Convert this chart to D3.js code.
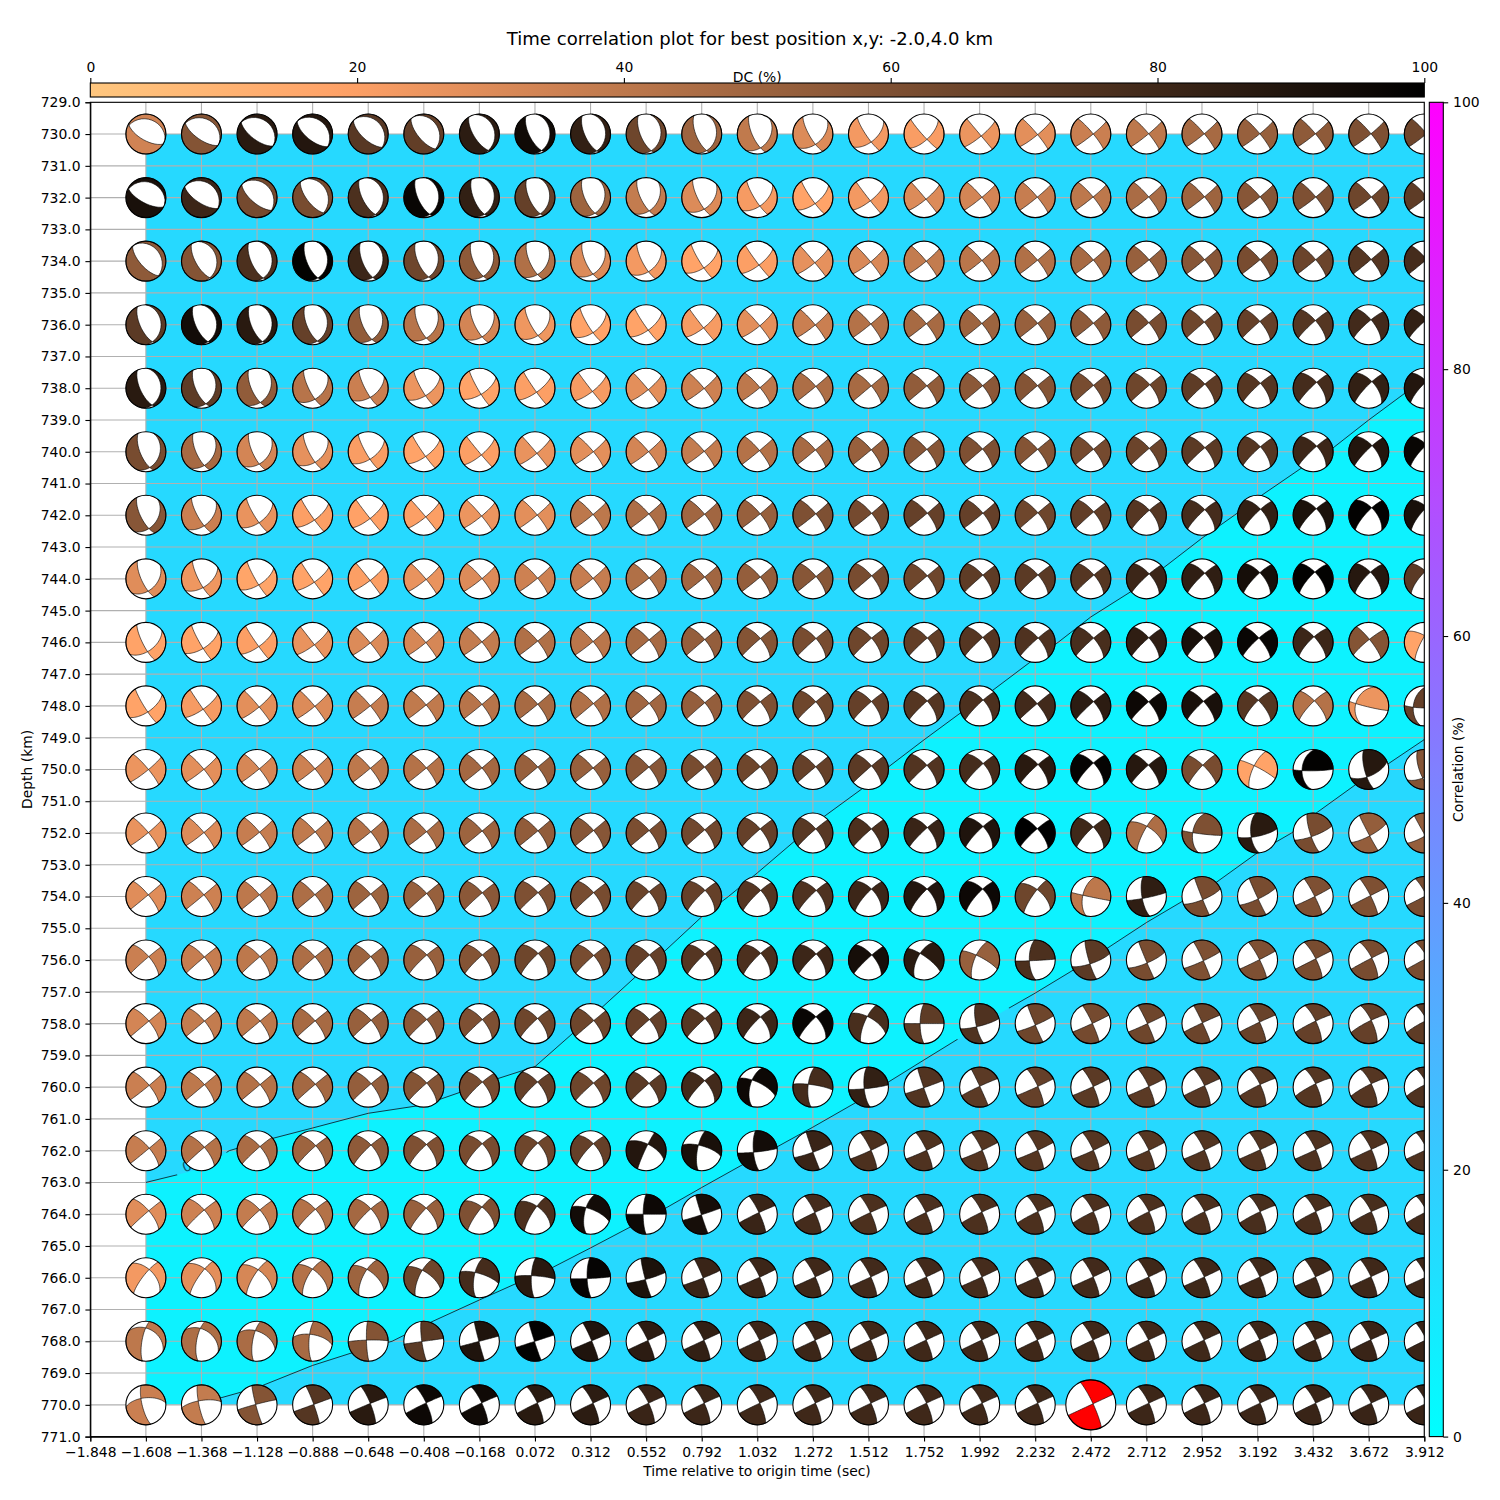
<!DOCTYPE html>
<html><head><meta charset="utf-8">
<script src="https://cdn.jsdelivr.net/npm/d3@7"></script>
<style>
html,body{margin:0;padding:0;background:#fff}
svg{display:block}
text{font-family:"DejaVu Sans",sans-serif;fill:#000}
</style></head><body><div id="chart"></div>
<script>
const titleText = "Time correlation plot for best position x,y: -2.0,4.0 km";
const timeTicks = [-1.848,-1.608,-1.368,-1.128,-0.888,-0.648,-0.408,-0.168,0.072,0.312,0.552,0.792,1.032,1.272,1.512,1.752,1.992,2.232,2.472,2.712,2.952,3.192,3.432,3.672,3.912];
const depthTicks = [729,730,731,732,733,734,735,736,737,738,739,740,741,742,743,744,745,746,747,748,749,750,751,752,753,754,755,756,757,758,759,760,761,762,763,764,765,766,767,768,769,770,771];
const times = [-1.608,-1.368,-1.128,-0.888,-0.648,-0.408,-0.168,0.072,0.312,0.552,0.792,1.032,1.272,1.512,1.752,1.992,2.232,2.472,2.712,2.952,3.192,3.432,3.672,3.912];
const depths = [730,732,734,736,738,740,742,744,746,748,750,752,754,756,758,760,762,764,766,768,770];
const bestTime = 2.472, bestDepth = 770;
const dcTicks = [0,20,40,60,80,100];
const corrTicks = [0,20,40,60,80,100];
const corrLevel = 10;
const contourLabels = [{time:-1.37,depth:762.34,angle:-21,half:27},{time:2.007,depth:758.0,angle:-30,half:30}];

const dc = [
[34,58,87,89,72,69,86,95,84,65,50,39,30,23,21,25,28,36,40,47,52,55,60,65],
[92,81,63,62,76,97,84,68,50,38,30,22,18,23,30,33,37,40,46,50,57,60,65,70],
[55,58,76,99,81,65,55,44,30,23,18,20,27,31,38,41,44,47,52,57,62,66,73,78],
[71,94,87,68,54,42,33,24,18,18,22,28,36,43,47,50,52,55,62,65,68,73,79,84],
[87,70,54,42,36,25,18,20,22,28,35,40,45,47,54,56,58,62,65,70,73,78,84,89],
[62,47,33,27,21,18,20,26,28,33,38,43,47,52,57,60,58,63,66,71,73,81,89,97],
[57,36,26,20,19,20,25,28,40,45,49,52,60,63,68,68,65,69,73,78,84,91,99,92],
[29,24,17,18,20,26,30,35,37,44,49,53,57,62,65,70,71,73,81,85,93,99,88,71],
[18,18,20,26,30,32,38,44,41,47,53,58,62,65,69,73,75,77,85,92,97,81,58,18],
[18,22,28,30,37,39,42,47,44,49,53,60,65,68,73,76,79,86,96,92,73,43,25,68],
[25,28,32,35,40,43,48,52,52,57,62,65,68,71,74,78,87,98,88,62,18,99,88,58],
[26,30,37,39,43,46,50,54,57,61,64,68,72,76,82,90,100,80,45,60,87,62,53,53],
[29,35,40,45,50,52,56,60,62,66,68,73,75,81,89,96,65,40,85,62,62,60,60,62],
[36,37,40,45,50,52,58,65,62,68,73,76,81,93,87,52,76,71,62,60,60,62,62,62],
[33,38,40,47,52,56,60,65,65,68,73,81,97,77,70,75,65,63,65,66,67,68,68,70],
[36,40,43,48,53,58,62,68,65,71,79,96,78,84,74,71,68,71,71,72,72,73,73,75],
[37,43,46,50,55,60,62,65,68,89,92,94,82,76,75,73,73,73,73,74,74,75,75,75],
[29,35,38,43,48,52,60,76,94,96,93,82,78,76,76,76,76,76,76,76,77,77,77,78],
[23,28,32,43,50,65,78,87,98,91,82,81,80,79,79,78,79,79,80,80,80,80,80,80],
[40,45,46,47,58,71,90,99,90,86,84,81,81,80,80,80,80,80,80,80,81,81,82,82],
[36,38,58,73,87,96,95,87,86,82,81,80,80,80,80,80,80,80,81,81,81,82,82,82]];

const strikes = [
[300,305,307,309,312,320,328,333,335,337,337,335,330,326,318,320,320,320,320,320,320,320,320,320],
[298,303,310,322,333,335,337,335,335,333,333,328,325,322,320,320,320,320,320,320,320,320,320,320],
[318,330,335,337,337,335,335,335,335,332,328,323,320,320,320,320,320,320,320,320,320,320,320,320],
[335,335,337,337,335,335,333,330,328,325,322,320,320,320,320,320,320,320,320,320,320,320,322,322],
[335,335,335,333,332,330,330,325,322,320,320,320,320,320,320,320,320,320,320,320,320,320,320,320],
[337,335,335,332,330,325,320,320,320,320,320,320,320,320,320,320,320,320,320,320,320,320,320,320],
[333,330,328,325,322,320,320,320,320,320,320,320,320,320,320,320,320,320,320,320,320,320,320,320],
[335,333,330,325,322,320,320,320,320,320,320,320,320,320,320,320,320,320,320,320,320,320,320,320],
[333,330,325,322,320,320,320,320,320,320,320,320,320,320,320,320,320,320,320,320,320,320,322,208],
[328,325,320,320,320,320,320,320,320,320,320,320,320,320,320,320,320,320,320,320,318,318,200,190],
[320,320,320,320,320,320,320,320,320,320,320,320,320,320,320,320,320,320,320,315,205,185,165,160],
[320,320,320,320,320,320,320,320,320,320,320,320,320,320,320,320,320,320,208,190,175,162,152,150],
[320,320,320,320,320,320,320,320,320,320,320,320,320,320,320,320,215,193,170,158,155,333,333,333],
[320,320,320,320,320,320,320,320,320,320,320,320,320,320,208,203,178,163,157,335,333,333,333,333],
[320,320,320,320,320,320,320,320,320,320,320,320,320,203,180,168,157,335,335,335,335,335,335,335],
[320,320,320,320,320,320,320,320,320,320,320,195,185,175,161,335,335,335,335,335,335,335,335,335],
[320,320,320,320,320,320,320,320,320,205,190,175,160,335,335,335,335,335,335,335,335,335,335,335],
[320,320,320,320,320,222,216,212,192,180,162,335,335,335,335,335,335,335,335,335,335,335,335,335],
[218,215,212,210,207,205,190,182,178,165,338,335,335,335,335,335,335,335,335,335,335,335,335,335],
[190,190,190,183,178,172,165,162,337,335,335,335,335,335,335,335,335,335,335,335,335,335,335,335],
[166,168,165,340,338,335,335,335,335,335,335,335,335,335,335,335,335,335,335,335,335,335,335,335]];

const dips = [
[115,112,113,115,114,113,113,113,113,113,113,110,105,100,96,90,84,82,82,82,82,82,82,82],
[112,112,113,113,113,113,113,113,113,111,106,101,97,92,88,82,82,81,81,80,80,80,80,80],
[113,113,113,113,113,113,113,111,110,105,98,94,88,85,83,81,80,79,78,78,78,78,78,78],
[113,113,113,113,112,111,108,105,100,96,92,85,83,81,80,80,79,78,77,76,74,72,70,70],
[113,113,112,105,102,100,97,94,92,87,83,80,76,75,75,74,76,74,70,70,68,63,62,64],
[113,111,108,104,100,95,92,88,81,82,81,80,77,76,75,74,76,75,72,70,68,64,63,64],
[111,105,100,95,92,88,85,82,80,78,78,77,77,75,74,74,75,72,67,66,64,62,60,60],
[108,102,97,92,88,84,81,80,81,78,76,76,74,72,72,70,71,70,68,66,66,66,66,65],
[103,97,94,90,85,84,81,78,80,74,73,70,70,69,68,67,69,70,70,72,74,72,80,78],
[97,92,86,84,83,80,78,77,75,74,72,70,70,69,67,63,78,70,72,73,72,72,35,45],
[82,82,81,81,80,78,78,75,78,75,75,74,74,71,70,63,68,64,72,75,71,44,73,70],
[81,81,80,79,79,78,76,75,74,74,72,70,70,70,65,62,72,66,78,52,62,78,88,88],
[78,78,78,78,76,73,71,70,70,68,63,63,63,60,60,60,79,57,72,88,88,84,82,80],
[72,73,72,74,73,67,67,62,68,66,63,61,63,66,62,69,66,82,88,86,82,78,75,75],
[74,74,74,75,72,70,70,68,72,69,66,62,62,73,74,75,88,84,86,87,80,76,75,75],
[75,74,74,74,72,70,67,68,70,71,63,60,70,72,88,88,79,80,80,78,76,75,75,75],
[73,72,70,67,66,65,62,60,62,85,72,74,88,80,80,80,80,80,80,80,79,79,78,78],
[72,70,70,68,67,80,80,78,65,78,88,81,80,80,80,78,76,76,76,76,76,76,76,76],
[78,78,75,70,68,70,68,75,76,85,85,80,80,80,80,80,80,80,80,80,80,80,80,80],
[74,70,72,75,83,82,88,88,85,82,80,80,80,80,80,80,80,80,80,80,80,80,80,80],
[75,80,85,85,80,78,78,78,78,78,78,78,78,78,78,78,78,82,78,78,78,78,78,78]];

const rakes = [
[84,87,89,92,94,96,98,103,102,105,106,122,138,147,156,170,172,174,175,175,175,175,175,175],
[86,92,94,97,100,103,105,107,112,125,133,145,155,165,170,175,176,176,176,176,176,175,175,175],
[94,98,102,104,108,110,115,125,127,137,152,163,170,172,174,176,177,177,177,178,178,178,179,179],
[100,100,103,107,117,125,130,135,147,157,165,170,173,176,177,178,178,178,180,182,184,187,190,190],
[102,112,120,135,143,150,155,163,165,170,173,175,178,180,180,180,182,182,182,185,188,189,192,195],
[112,123,130,137,150,160,165,170,173,174,175,178,179,179,180,181,181,181,183,185,188,188,190,195],
[125,137,150,160,165,170,172,175,176,177,176,177,177,178,178,178,181,183,188,190,191,192,195,198],
[130,145,155,165,170,172,174,175,175,175,178,178,179,181,181,183,185,184,188,190,193,196,196,200],
[143,155,162,168,173,174,175,177,176,180,181,184,184,185,185,187,186,186,188,190,190,195,188,-25],
[155,165,171,173,175,177,178,178,180,180,182,185,185,186,187,189,182,186,187,190,195,192,8,12],
[173,174,176,176,178,178,178,180,178,180,180,181,181,183,185,189,188,193,188,190,-8,8,28,30],
[175,175,176,177,177,177,179,179,180,180,182,185,185,185,188,191,188,192,-25,5,15,12,12,12],
[179,179,179,180,181,182,184,184,184,187,190,190,190,195,195,195,-28,2,5,13,10,-3,0,0],
[183,182,183,184,184,188,188,192,186,187,190,192,190,187,-16,-13,2,14,12,-5,-2,0,2,2],
[180,180,180,182,183,185,185,189,181,184,187,192,193,-25,0,10,6,-2,-2,2,2,5,8,8],
[177,180,180,182,183,185,188,189,185,184,192,-22,-10,5,2,3,-2,-2,-2,1,5,8,8,8],
[179,183,185,187,190,192,194,196,194,-27,-20,5,6,-3,-3,-3,-3,-3,-3,-2,-1,-1,0,0],
[183,186,186,188,190,-25,-30,-32,-22,0,2,3,3,3,3,4,5,5,5,5,5,5,5,5],
[-35,-38,-30,-30,-28,-25,-18,-8,3,6,-3,-2,-1,-1,-1,-1,-1,-1,-1,-1,-1,-1,0,0],
[-55,-52,-42,-28,-5,0,0,0,0,0,0,0,0,1,1,1,1,1,1,1,2,2,2,2],
[-30,-18,-3,0,2,3,3,3,2,2,2,2,2,2,2,2,2,0,2,2,2,2,2,2]];

const correlation = [
[14,15,16,17,18,18,18,18,17,16,16,15,15,15,15,15,15,15,15,14,14,14,14,14],
[15,16,16,17,18,18,18,17,17,16,16,15,15,15,15,15,15,15,15,14,14,14,14,14],
[15,16,16,17,17,17,17,17,16,16,16,15,15,15,15,15,15,15,14,14,14,14,14,13],
[15,15,15,15,15,15,15,15,15,15,15,15,15,14,14,14,14,14,14,14,13,13,12.5,11.26],
[15,15,15,15,15,15,15,15,15,15,15,15,14,14,14,14,14,14,14,13,13,12,10.81,9.76],
[14,14,14,14,14,14,14,14,14,14,14,14,14,14,14,14,14,14,14,13,12.08,10.3,9.19,8],
[14,14,14,14,14,14,14,14,14,14,14,14,14,14,14,14,14,13,12,11.07,9.23,8,7,6.5],
[14,14,14,14,14,14,14,14,14,14,14,14,14,14,14,14,12.5,11.44,10.1,8.1,7,6,6,6],
[14,14,14,14,14,14,14,14,14,14,14,14,14,14,13,12.5,10.67,9.04,8,7,6,6,6.5,7],
[14,14,14,14,14,14,14,14,14,14,14,14,14,12.5,11.2,9.75,8,7,6,6,6.5,7,8,9.1],
[14,14,14,14,14,14,14,14,14,14,14,13,11.4,10.45,8.95,8,7,6,6,6.5,7.5,9.02,9.8,10.8],
[14,14,14,14,14,14,14,14,14,14,12.5,11.12,9.79,8.5,7.5,7,6,6,7,8,9.4,10.38,12,13],
[14,14,14,14,14,14,14,14,14,12,10.61,9.34,8,7,6.5,6,6,7,9.5,10.13,11.34,13,14,14],
[14,14,14,14,14,14,14,14,12.9,10.25,8.7,7.5,7,6,6,7,7.4,10.05,10.72,13,14,14,15,15],
[15,15,15,15,15,14,13,12.1,9.71,8,7,6,5.5,6,8,9.9,12.4,13,14,15,15,15,15,15],
[15,16,16.7,13.6,12.1,11.55,9.87,9,8,7,6,5.5,8.3,9.6,11.5,13,14,15,15,15,15,15,15,15],
[11.5,11,9,8,7,6,6,6,6,6,8.55,9.7,11,12.7,14,15,15,15,15,15,15,15,15,15],
[8.5,7.5,7,7,6.5,6,6,7,8,9.8,11.05,13,14,15,15,15,15,15,15,15,15,15,15,15],
[7,7,6.5,6.5,7,8.8,9.5,10.06,11.77,12.66,14,15,15,15,15,15,15,15,15,15,15,15,15,15],
[8,8,8,8.5,9.7,10.4,10.93,13,14,15,15,15,15,15,15,15,15,15,15,15,15,15,15,15],
[9,10.05,10.74,12.45,12.7,13.5,14,15,15,15,15,15,15,15,15,15,15,15,15,15,15,15,15,15]];

const W=1500,H=1500;
const ax={l:90.3,r:1424.3,t:102.3,b:1436.6};
const svg=d3.select("#chart").append("svg").attr("width",W).attr("height",H).attr("viewBox",`0 0 ${W} ${H}`);
const x=d3.scaleLinear().domain([timeTicks[0],timeTicks[timeTicks.length-1]]).range([ax.l,ax.r]);
const y=d3.scaleLinear().domain([depthTicks[0],depthTicks[depthTicks.length-1]]).range([ax.t,ax.b]);
const dcScale=d3.scaleLinear().domain([0,100]).range([ax.l,ax.r]);
const corrScale=d3.scaleLinear().domain([0,100]).range([ax.b,ax.t]);
const copperR=v=>{const t=1-v/100;return d3.rgb(255*Math.min(1,t/0.809524),255*0.7812*t,255*0.4975*t).formatHex();};
const cool=v=>{const t=v/100;return d3.rgb(255*t,255*(1-t),255).formatHex();};
const defs=svg.append("defs");
defs.append("clipPath").attr("id","axclip").append("rect").attr("x",ax.l).attr("y",ax.t).attr("width",ax.r-ax.l).attr("height",ax.b-ax.t);
defs.append("clipPath").attr("id","fieldclip").append("rect").attr("x",x(times[0])).attr("y",y(depths[0])).attr("width",x(times[23])-x(times[0])).attr("height",y(depths[20])-y(depths[0]));
function grad(id,x2,y2,fn){const g=defs.append("linearGradient").attr("id",id).attr("x1",0).attr("y1",0).attr("x2",x2).attr("y2",y2);
  d3.range(0,101,2).forEach(v=>g.append("stop").attr("offset",v+"%").attr("stop-color",fn(v)));}
grad("gdc",1,0,copperR); grad("gcorr",0,1,v=>cool(100-v));

// correlation field
const field=svg.append("g").attr("clip-path","url(#fieldclip)");
field.append("rect").attr("x",x(times[0])).attr("y",y(depths[0])).attr("width",x(times[23])-x(times[0])).attr("height",y(depths[20])-y(depths[0])).attr("fill",cool(5));
const nx=times.length,ny=depths.length;
const dt=times[1]-times[0],dz=depths[1]-depths[0];
const gridProj=d3.geoTransform({point(u,v){this.stream.point(x(times[0]+(u-0.5)*dt),y(depths[0]+(v-0.5)*dz));}});
const contour=d3.contours().size([nx,ny]).thresholds([corrLevel])(correlation.flat())[0];
const geo=d3.geoPath(gridProj);
field.append("path").attr("d",geo(contour)).attr("fill",cool(15));

// grid
const grid=svg.append("g").attr("clip-path","url(#axclip)");
grid.selectAll("line.v").data(timeTicks).join("line").attr("x1",d=>x(d)).attr("x2",d=>x(d)).attr("y1",ax.t).attr("y2",ax.b).attr("stroke","#b0b0b0").attr("stroke-width",1.1);
grid.selectAll("line.h").data(depthTicks).join("line").attr("y1",d=>y(d)).attr("y2",d=>y(d)).attr("x1",ax.l).attr("x2",ax.r).attr("stroke","#b0b0b0").attr("stroke-width",1.1);

// contour line with label gaps
const mask=defs.append("mask").attr("id","gaps").attr("maskUnits","userSpaceOnUse").attr("x",0).attr("y",0).attr("width",W).attr("height",H);
mask.append("rect").attr("width",W).attr("height",H).attr("fill","#fff");
mask.selectAll("rect.g").data(contourLabels).join("rect").attr("class","g").attr("x",d=>-d.half).attr("y",-12).attr("width",d=>2*d.half).attr("height",24).attr("fill","#000")
  .attr("transform",d=>`translate(${x(d.time)},${y(d.depth)}) rotate(${d.angle})`);
svg.append("g").attr("clip-path","url(#fieldclip)").append("g").attr("mask","url(#gaps)").append("path").attr("d",geo(contour)).attr("fill","none").attr("stroke","#0b2733").attr("stroke-width",0.9);
svg.append("text").attr("transform",`translate(${x(contourLabels[0].time)-14},${y(contourLabels[0].depth)+5}) rotate(-21)`).attr("text-anchor","middle").attr("dy","0.35em").attr("font-size",13.9).style("fill","#0a5a70").text("0");

// beachballs
const rad=Math.PI/180;
const dot=(a,b)=>a[0]*b[0]+a[1]*b[1]+a[2]*b[2];
const cross=(a,b)=>[a[1]*b[2]-a[2]*b[1],a[2]*b[0]-a[0]*b[2],a[0]*b[1]-a[1]*b[0]];
const norm=a=>{const m=Math.hypot(a[0],a[1],a[2])||1;return [a[0]/m,a[1]/m,a[2]/m];};
function proj(v){const D=Math.max(-1,Math.min(1,Math.abs(v[2])));const s=v[2]<-1e-6?-1:1;const th=Math.acos(D);const r=Math.SQRT2*Math.sin(th/2);const h=Math.hypot(v[0],v[1])||1;return [s*v[1]/h*r,-s*v[0]/h*r];}
function quadrants(st,di,ra){
  const f=st*rad,de=di*rad,l=ra*rad;
  const n=[-Math.sin(de)*Math.sin(f),Math.sin(de)*Math.cos(f),-Math.cos(de)];
  const d=[Math.cos(l)*Math.cos(f)+Math.cos(de)*Math.sin(l)*Math.sin(f),Math.cos(l)*Math.sin(f)-Math.cos(de)*Math.sin(l)*Math.cos(f),-Math.sin(l)*Math.sin(de)];
  let b=norm(cross(n,d)); if(b[2]<0)b=b.map(v=>-v);
  const hA=[Math.cos(f),Math.sin(f),0];
  const hB=norm([-d[1],d[0],0]);
  const ends=[hA,hA.map(v=>-v),hB,hB.map(v=>-v)].map(h=>({h,az:(Math.atan2(h[1],h[0])+2*Math.PI)%(2*Math.PI)})).sort((p,q)=>p.az-q.az);
  const ray=h=>{const c=dot(h,b);const w=norm([h[0]-c*b[0],h[1]-c*b[1],h[2]-c*b[2]]);const T=Math.atan2(dot(h,w),c);
    return d3.range(0,15).map(i=>{const t=T*i/14;return [Math.cos(t)*b[0]+Math.sin(t)*w[0],Math.cos(t)*b[1]+Math.sin(t)*w[1],Math.cos(t)*b[2]+Math.sin(t)*w[2]];}).map(proj);};
  const out=[];
  for(let i=0;i<4;i++){
    const e0=ends[i],e1=ends[(i+1)%4];
    let a0=e0.az,a1=e1.az; if(a1<a0)a1+=2*Math.PI;
    const m=(a0+a1)/2; const xm=[Math.cos(m),Math.sin(m),0];
    if(dot(xm,n)*dot(xm,d)<=0)continue;
    const rim=d3.range(1,12).map(j=>{const a=a0+(a1-a0)*j/12;return [Math.sin(a),-Math.cos(a)];});
    out.push([...ray(e0.h),...rim,...ray(e1.h).reverse()]);
  }
  return out;
}
const balls=[];
depths.forEach((z,r)=>times.forEach((t,c)=>balls.push({t,z,dc:dc[r][c],st:strikes[r][c],di:dips[r][c],ra:rakes[r][c],best:t===bestTime&&z===bestDepth})));
balls.sort((a,b)=>a.best-b.best);
const ballLayer=svg.append("g").attr("clip-path","url(#axclip)");
const gb=ballLayer.selectAll("g").data(balls).join("g").attr("transform",d=>`translate(${x(d.t)},${y(d.z)})`);
const R=d=>d.best?25:20;
gb.append("circle").attr("r",R).attr("fill","#fff");
gb.each(function(d){
  const line=d3.line().x(p=>p[0]*R(d)).y(p=>p[1]*R(d)).curve(d3.curveLinearClosed);
  d3.select(this).selectAll("path").data(quadrants(d.st,d.di,d.ra)).join("path").attr("d",line)
    .attr("fill",d.best?"#ff0000":copperR(d.dc)).attr("stroke","#000").attr("stroke-width",0.6).attr("stroke-linejoin","round");
});
gb.append("circle").attr("r",R).attr("fill","none").attr("stroke","#000").attr("stroke-width",1.1);

// axes
const F=13.9;
function style(g){g.selectAll("text").attr("font-size",F).style("font-family",'"DejaVu Sans",sans-serif');g.selectAll("line").attr("stroke","#000").attr("stroke-width",1.1);g.selectAll("path.domain").attr("stroke","#000").attr("stroke-width",1.1);}
svg.append("rect").attr("x",ax.l).attr("y",ax.t).attr("width",ax.r-ax.l).attr("height",ax.b-ax.t).attr("fill","none").attr("stroke","#000").attr("stroke-width",1.1);
svg.append("g").attr("transform",`translate(0,${ax.b})`).call(d3.axisBottom(x).tickValues(timeTicks).tickFormat(d3.format(".3f")).tickSize(4.9).tickPadding(5.5)).call(style);
svg.append("g").attr("transform",`translate(${ax.l},0)`).call(d3.axisLeft(y).tickValues(depthTicks).tickFormat(d3.format(".1f")).tickSize(4.9).tickPadding(4.9)).call(style);

// DC colorbar
const cbT=83,cbB=97;
svg.append("rect").attr("x",ax.l).attr("y",cbT).attr("width",ax.r-ax.l).attr("height",cbB-cbT).attr("fill","url(#gdc)").attr("stroke","#000").attr("stroke-width",1.1);
svg.append("g").attr("transform",`translate(0,${cbT})`).call(d3.axisTop(dcScale).tickValues(dcTicks).tickSize(4.9).tickPadding(6.5)).call(style).call(g=>g.select("path.domain").remove());
svg.append("text").attr("x",(ax.l+ax.r)/2).attr("y",82).attr("text-anchor","middle").attr("font-size",F).text("DC (%)");

// correlation colorbar
const cx0=1429.3,cx1=1443.3;
svg.append("rect").attr("x",cx0).attr("y",ax.t).attr("width",cx1-cx0).attr("height",ax.b-ax.t).attr("fill","url(#gcorr)").attr("stroke","#000").attr("stroke-width",1.1);
svg.append("g").attr("transform",`translate(${cx1},0)`).call(d3.axisRight(corrScale).tickValues(corrTicks).tickSize(4.9).tickPadding(4.9)).call(style).call(g=>g.select("path.domain").remove());
svg.append("text").attr("transform",`translate(1463,${(ax.t+ax.b)/2}) rotate(-90)`).attr("text-anchor","middle").attr("font-size",F).text("Correlation (%)");

svg.append("text").attr("x",757).attr("y",1476).attr("text-anchor","middle").attr("font-size",F).text("Time relative to origin time (sec)");
svg.append("text").attr("transform",`translate(32,${(ax.t+ax.b)/2}) rotate(-90)`).attr("text-anchor","middle").attr("font-size",F).text("Depth (km)");
svg.append("text").attr("x",750).attr("y",45).attr("text-anchor","middle").attr("font-size",18.06).text(titleText);
</script></body></html>
